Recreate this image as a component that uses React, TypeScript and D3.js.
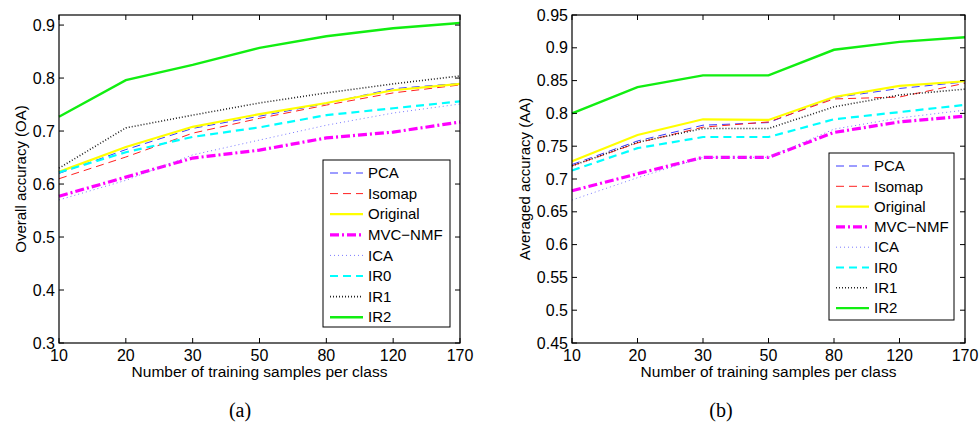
import * as d3 from 'd3'
import React from 'react'

const xLabels = ['10', '20', '30', '50', '80', '120', '170']

const seriesNames = ['PCA', 'Isomap', 'Original', 'MVC\u2212NMF', 'ICA', 'IR0', 'IR1', 'IR2']

// overall accuracy (a)
const pcaOA = [0.62, 0.665, 0.705, 0.728, 0.752, 0.78, 0.79]
const isomapOA = [0.61, 0.651, 0.696, 0.724, 0.749, 0.772, 0.787]
const originalOA = [0.623, 0.67, 0.708, 0.732, 0.753, 0.777, 0.789]
const mvcOA = [0.577, 0.613, 0.649, 0.664, 0.687, 0.698, 0.717]
const icaOA = [0.57, 0.607, 0.655, 0.683, 0.711, 0.734, 0.751]
const ir0OA = [0.622, 0.66, 0.689, 0.707, 0.73, 0.743, 0.756]
const ir1OA = [0.63, 0.706, 0.73, 0.753, 0.772, 0.789, 0.804]
const ir2OA = [0.727, 0.796, 0.825, 0.857, 0.879, 0.894, 0.904]

// averaged accuracy (b)
const pcaAA = [0.722, 0.758, 0.782, 0.786, 0.824, 0.838, 0.848]
const isomapAA = [0.72, 0.755, 0.779, 0.787, 0.822, 0.825, 0.846]
const originalAA = [0.727, 0.767, 0.791, 0.79, 0.825, 0.842, 0.849]
const mvcAA = [0.682, 0.708, 0.733, 0.733, 0.771, 0.787, 0.796]
const icaAA = [0.668, 0.702, 0.733, 0.733, 0.776, 0.793, 0.805]
const ir0AA = [0.713, 0.747, 0.764, 0.764, 0.791, 0.802, 0.813]
const ir1AA = [0.72, 0.756, 0.777, 0.777, 0.81, 0.828, 0.837]
const ir2AA = [0.8, 0.84, 0.858, 0.858, 0.897, 0.909, 0.916]

const oaTicks = [0.3, 0.4, 0.5, 0.6, 0.7, 0.8, 0.9]
const aaTicks = [0.45, 0.5, 0.55, 0.6, 0.65, 0.7, 0.75, 0.8, 0.85, 0.9, 0.95]

const styles = [
  { color: '#3a3aff', width: 1, dash: '8,5' },
  { color: '#ff2020', width: 1, dash: '8,5' },
  { color: '#ffff00', width: 2.2, dash: null },
  { color: '#ff00ff', width: 3.2, dash: '9,3,2,3' },
  { color: '#7a7aff', width: 1, dash: '1,3' },
  { color: '#00ffff', width: 2.2, dash: '8,5' },
  { color: '#222222', width: 1.6, dash: '1,2' },
  { color: '#11ee11', width: 2.4, dash: null },
]

const FONT = "'Liberation Sans', Arial, Helvetica, sans-serif"

type PanelProps = {
  left: number
  right: number
  top: number
  bottom: number
  domain: [number, number]
  ticks: number[]
  series: number[][]
  yTitle: string
  yTitleX: number
  legend: { x: number; y: number; w: number; h: number; step: number }
  caption: string
  captionX: number
}

function Panel(p: PanelProps) {
  const x = d3.scalePoint<string>().domain(xLabels).range([p.left, p.right])
  const y = d3.scaleLinear().domain(p.domain).range([p.bottom, p.top])
  const line = d3
    .line<number>()
    .x((_, i) => x(xLabels[i]) as number)
    .y(d => y(d))
  const tl = 5
  const midX = (p.left + p.right) / 2
  const midY = (p.top + p.bottom) / 2
  const fmt = (v: number) => String(+v.toFixed(2))
  return (
    <g>
      <rect x={p.left} y={p.top} width={p.right - p.left} height={p.bottom - p.top} fill="#fff" />
      {p.series.map((s, i) => (
        <path
          key={i}
          d={line(s) as string}
          fill="none"
          stroke={styles[i].color}
          strokeWidth={styles[i].width}
          strokeDasharray={styles[i].dash ?? undefined}
        />
      ))}
      {/* ticks */}
      {p.ticks.map(t => (
        <g key={t}>
          <line x1={p.left} x2={p.left + tl} y1={y(t)} y2={y(t)} stroke="#000" />
          <line x1={p.right} x2={p.right - tl} y1={y(t)} y2={y(t)} stroke="#000" />
          <text x={p.left - 4} y={y(t)} dy="0.35em" textAnchor="end" fontSize={16} fontFamily={FONT} fill="#000">
            {fmt(t)}
          </text>
        </g>
      ))}
      {xLabels.map(l => (
        <g key={l}>
          <line x1={x(l)} x2={x(l)} y1={p.bottom} y2={p.bottom - tl} stroke="#000" />
          <line x1={x(l)} x2={x(l)} y1={p.top} y2={p.top + tl} stroke="#000" />
          <text x={x(l)} y={p.bottom + 18} textAnchor="middle" fontSize={16} fontFamily={FONT} fill="#000">
            {l}
          </text>
        </g>
      ))}
      <rect
        x={p.left}
        y={p.top}
        width={p.right - p.left}
        height={p.bottom - p.top}
        fill="none"
        stroke="#000"
        strokeWidth={1.2}
      />
      <text x={midX} y={p.bottom + 34} textAnchor="middle" fontSize={15.5} fontFamily={FONT} fill="#000">
        Number of training samples per class
      </text>
      <text
        transform={`translate(${p.yTitleX},${midY}) rotate(-90)`}
        textAnchor="middle"
        fontSize={15}
        fontFamily={FONT}
        fill="#000"
      >
        {p.yTitle}
      </text>
      {/* legend */}
      <rect x={p.legend.x} y={p.legend.y} width={p.legend.w} height={p.legend.h} fill="#fff" stroke="#000" />
      {seriesNames.map((n, i) => {
        const cy = p.legend.y + 13 + i * p.legend.step
        return (
          <g key={n}>
            <line
              x1={p.legend.x + 7}
              x2={p.legend.x + 40}
              y1={cy}
              y2={cy}
              stroke={styles[i].color}
              strokeWidth={styles[i].width}
              strokeDasharray={styles[i].dash ?? undefined}
            />
            <text x={p.legend.x + 45} y={cy} dy="0.35em" fontSize={15} fontFamily={FONT} fill="#000">
              {n}
            </text>
          </g>
        )
      })}
      <text
        x={p.captionX}
        y={417}
        textAnchor="middle"
        fontSize={20}
        fontFamily="'Liberation Serif', 'Times New Roman', serif"
        fill="#000"
      >
        {p.caption}
      </text>
    </g>
  )
}

export default function App() {
  return (
    <svg
      width={980}
      height={423}
      style={{ position: 'absolute', left: 0, top: 0, background: '#fff' }}
    >
      <rect width={980} height={423} fill="#fff" />
      <Panel
        left={59}
        right={460}
        top={15}
        bottom={343}
        domain={[0.3, 0.919]}
        ticks={oaTicks}
        series={[pcaOA, isomapOA, originalOA, mvcOA, icaOA, ir0OA, ir1OA, ir2OA]}
        yTitle="Overall accuracy (OA)"
        yTitleX={26}
        legend={{ x: 323, y: 160, w: 127, h: 167, step: 20.6 }}
        caption="(a)"
        captionX={240}
      />
      <Panel
        left={572}
        right={965}
        top={15}
        bottom={343}
        domain={[0.45, 0.95]}
        ticks={aaTicks}
        series={[pcaAA, isomapAA, originalAA, mvcAA, icaAA, ir0AA, ir1AA, ir2AA]}
        yTitle="Averaged accuracy (AA)"
        yTitleX={530}
        legend={{ x: 829, y: 153, w: 125, h: 167, step: 20.3 }}
        caption="(b)"
        captionX={721}
      />
    </svg>
  )
}
